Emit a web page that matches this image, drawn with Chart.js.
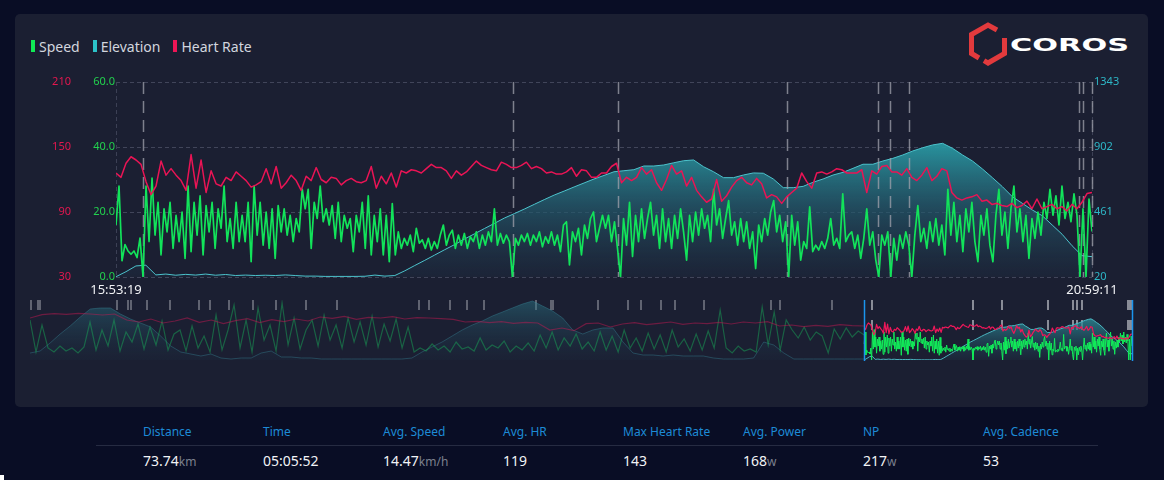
<!DOCTYPE html>
<html>
<head>
<meta charset="utf-8">
<script src="https://cdn.jsdelivr.net/npm/chart.js@4.4.1/dist/chart.umd.min.js"></script>
<style>
  html, body { margin: 0; padding: 0; }
  body { width: 1164px; height: 480px; background: #090d25; position: relative; overflow: hidden;
         font-family: 'Noto Sans', 'Open Sans', sans-serif; }
  #card { position: absolute; left: 15px; top: 14px; width: 1133px; height: 393px; background: #1b1f32; border-radius: 5px; }
  #legend { position: absolute; left: 31px; top: 36px; height: 20px; display: flex; align-items: center;
            font-size: 14px; color: #d2d5de; }
  #legend .item { display: flex; align-items: center; margin-right: 13px; }
  #legend .bar { width: 4px; height: 12px; margin-right: 4px; }
  #logo { position: absolute; left: 966px; top: 22px; }
  canvas { position: absolute; left: 0; }
  #main { top: 0; }
  #nav { top: 290px; }
  #sep { position: absolute; left: 96px; top: 445px; width: 1002px; height: 1px; background: #262b42; }
  .lbl { position: absolute; top: 425px; font-size: 12px; line-height: 13px; color: #1d8bd6; white-space: nowrap; }
  .val { position: absolute; top: 454px; font-size: 14px; line-height: 14px; color: #f2f3f6; white-space: nowrap; }
  .val span { font-size: 12px; color: #7c808e; }
  #corner { position: absolute; left: 0; top: 475px; width: 4px; height: 5px; background: #fff; }
</style>
</head>
<body>
<div id="card"></div>
<div id="legend">
  <div class="item"><div class="bar" style="background:#10ea55"></div>Speed</div>
  <div class="item"><div class="bar" style="background:#2cc3c9"></div>Elevation</div>
  <div class="item"><div class="bar" style="background:#ee1556"></div>Heart Rate</div>
</div>
<div id="logo">
  <svg width="170" height="46" viewBox="0 0 170 46">
    <g fill="none" stroke="#e23a3d" stroke-width="5" stroke-linejoin="miter">
      <path d="M31,8 L22,3 L5.5,12.5 L5.5,31.5 L13,36"/>
      <path d="M18,38.7 L22,41 L38.5,31.5 L38.5,16"/>
    </g>
    <text x="44" y="29" font-family="DejaVu Sans" font-weight="700" font-size="18" fill="#ffffff"
          textLength="119" lengthAdjust="spacingAndGlyphs">COROS</text>
  </svg>
</div>
<canvas id="main" width="1164" height="300"></canvas>
<canvas id="nav" width="1164" height="80"></canvas>
<div id="sep"></div>
<div id="stats"></div>
<div id="corner"></div>

<script>
// ---- data ----
const timeTicks = ['15:53:19', '20:59:11'];
const pauseTimes = ['16:01:52', '17:57:50', '18:30:44', '19:23:30', '19:52:13', '19:55:53',
                    '20:01:56', '20:55:07', '20:56:22', '20:59:11'];

const speedTicks = [0, 20, 40, 60];
const hrTicks = [30, 90, 150, 210];
const elevTicks = [20, 461, 902, 1343];

// speed, km/h (evenly spaced over the ride)
const speed = [
  16, 28, 5, 10, 8, 7, 8, 6, 12, 0,
  28, 10.9, 30.4, 12.9, 23, 6.8, 21, 13.9, 23, 8.8,
  19, 10.9, 20, 5.7, 28, 7.8, 23, 12.9, 25, 6.8,
  22, 13.9, 23, 8.8, 21, 15, 28, 10.9, 18, 8.8,
  23, 10.9, 19, 10.9, 23, 4.7, 28, 12.9, 23, 9.8,
  20, 8.8, 21, 5.7, 22, 13.9, 21, 12.9, 19, 10.9,
  18, 13.9, 27, 21, 27, 8.8, 23, 18, 28, 17,
  21, 16, 22, 11.9, 23, 10.9, 19, 15, 18, 7.8,
  19, 13.9,
  23, 8.8, 25, 6.8, 19, 10.9, 21, 6.8, 19, 4.7,
  22.6, 6.8, 13.9, 8.8, 11.9, 9.8, 12.9, 7.8, 15, 10.4,
  11.4, 8.8, 11.9, 8.3, 10.9, 8.8, 12.9, 16, 9.8, 12.9,
  14.4, 8.8, 12.9, 9.8, 13.4, 8.8, 12.4, 10.9, 13.9, 8.8,
  12.9, 9.8, 13.9, 10.9, 21, 9.8, 13.4, 10.4, 12.9, 10.9,
  0, 11.9, 9.8, 12.9, 10.9, 13.4, 9.8, 12.9, 10.9, 13.9,
  9.3, 12.4, 10.4, 13.9, 9.8, 12.9, 7.8, 16, 17, 3.7,
  13.9, 10.9, 15, 6.8, 16, 11.9, 18, 20, 10.9, 15,
  19, 15,
  19, 10.9, 17, 8.8, 0, 18, 9.8, 23, 6.3, 19,
  10.9, 21, 11.9, 18, 23, 12.9, 19, 8.8, 21, 10.9,
  18, 8.8, 19, 11.9, 21, 13.9, 5.2, 19, 10.9, 20,
  12.9, 21, 15, 19, 10.9, 27, 16, 21, 11.9, 18,
  23.5, 12.9, 17, 9.8, 18, 10.9, 17, 8.8, 13.9, 2.6,
  16, 10.9, 18, 12.9, 20, 23.5, 13.9, 19, 10.9, 17,
  0, 19, 9.8, 17, 5.2, 10.9, 8.8, 21.6, 7.8, 9.8,
  8.3, 10.9, 8.8, 11.9, 18, 9.8, 11.9, 8.8, 25.6, 10.9,
  12.9,
  13.9, 8.8, 12.9, 5.7, 11.9, 21, 9.8, 13.9, 5.2, 0,
  12.9, 9.8, 13.9, 0, 11.9, 5.2, 12.9, 8.8, 13.9, 9.8,
  0, 12.9, 22, 10.9, 15, 8.8, 17, 10.9, 18, 9.8,
  16, 6.8, 27, 12.9, 23, 10.9, 19, 7.8, 21, 13.9,
  23, 10.9, 4.7, 19, 12.9, 21, 9.8, 4.7, 19, 27,
  12.9, 20, 8.8, 21, 28, 13.9, 21, 10.9, 19, 5.7,
  18, 11.9, 20, 12.9, 23, 18, 27, 19, 25, 16,
  28, 18, 23, 17, 25.6, 19, 0, 21, 0, 24,
  14
];

// heart rate, bpm
const heartRate = [
  126, 122, 135, 141, 138, 134, 118, 106, 114, 137,
  124, 130, 124, 119, 110, 143, 112, 138, 108, 128,
  116, 114, 122, 119, 127, 123, 119, 113, 115, 118,
  130, 116, 132, 112, 117, 124, 119, 110, 123, 119,
  131, 120, 117, 122, 121, 115, 119, 121, 118,
  117, 119, 132, 112, 123, 116, 126, 113, 128, 126,
  129, 128, 126, 130, 134, 131, 131, 128, 121, 128,
  124, 127, 132, 137, 133, 131, 129, 128, 136, 134,
  131, 131, 133, 136, 130, 132, 130, 126, 127, 125,
  125, 127, 131, 123, 129, 128, 122, 122, 126,
  126, 132, 135, 117, 122, 119, 122, 131, 125, 129,
  117, 110, 120, 133, 125, 128, 114, 122, 110, 104,
  99, 102, 120, 100, 105, 113, 119, 122, 117, 115,
  121, 116, 103, 106, 104, 98, 104, 108, 112, 126,
  118, 112, 126, 127, 125, 127, 130, 129, 126,
  126, 126, 129, 108, 128, 125, 132, 133, 127, 127,
  124, 130, 122, 119, 124, 131, 119, 123, 130, 128,
  108, 103, 101, 103, 104, 106, 100, 101, 97, 98,
  96, 95, 98, 94, 96, 100, 93, 102, 93, 95,
  97, 93, 95, 91, 97, 93, 99, 107, 108
];

// elevation, m
const elevation = [
  22, 56, 95, 100, 34, 40, 32, 38, 33, 40,
  32, 37, 30, 33, 30, 32, 30, 34, 30, 26,
  26, 24, 24, 24, 24, 25, 33, 26, 30, 62,
  98, 133, 169, 205, 240, 278, 313, 349, 384, 420,
  450, 481, 513, 545, 576, 603, 631, 658, 685, 709,
  734, 741, 748, 773, 773, 780, 795, 809, 814, 768,
  734, 694, 694, 712, 726, 724, 685, 626, 626, 635,
  663, 685, 712, 730, 757, 785, 785, 807, 825, 848,
  875, 897, 916, 927, 893, 848, 807, 753, 694, 633,
  565, 520, 475, 436, 373, 310, 232, 165, 158
];

// overview strip: the earlier part of the activity, shown dimmed
const overviewSpeed = [
  40, 8, 35,
  12, 8, 14, 9, 12, 7, 13,
  38, 10, 30, 14, 40, 9, 28, 18, 36, 11, 33, 15, 39, 10, 26,
  30, 9, 34, 12, 24, 8,
  45, 10, 30, 55, 12, 40, 8, 52, 20, 35, 9, 57, 15, 42, 11, 30,
  40, 14, 45, 20, 35, 12, 42, 18, 38, 15, 44, 13, 36, 19, 41, 12, 33, 8,
  12, 9, 16, 10, 14, 8, 18, 11, 13, 9, 22, 10, 15, 12, 19, 8, 14, 10, 17, 9,
  25, 12, 28, 10, 22, 14, 26, 11, 18, 9,
  28, 10, 24, 8, 30, 12, 22, 9, 27, 11, 25, 8, 30, 13, 21, 9, 26, 10, 29, 12, 50,
  12, 7, 14, 9, 11, 8,
  53, 15, 48, 10, 40,
  30, 22, 33, 20, 28, 24, 7, 31, 21, 32, 23, 29, 25
];
const overviewHr = [
  156,
  166, 169, 167, 170, 168, 165, 168,
  150, 144, 153, 141, 147, 156, 143, 150, 139, 148, 154, 142, 151, 145, 153, 147,
  159, 155, 161, 152, 158, 156, 160, 153, 157,
  156, 154, 152,
  144, 146, 142, 145, 140, 143, 141,
  120, 126, 118,
  139, 141,
  129,
  138, 142, 136, 140, 144, 137, 141, 139, 143, 138,
  144, 141, 145,
  132, 135, 130, 134, 131, 136, 133, 132
];
const overviewElev = [
  174, 218, 395, 593, 770, 968, 1145, 1167, 1167, 1034,
  924, 836, 748, 549, 329, 196, 152, 108, 152, 64,
  42, 64, 64, 174, 218, 86, 86, 64, 64, 42,
  42, 42, 42, 42, 42, 42, 42, 42, 64, 196,
  307, 417, 549, 682, 792, 880, 990, 1078, 1167, 1255,
  1321, 1211, 1100, 946, 682, 593, 682, 726, 726, 417,
  174, 130, 130, 108, 130, 108, 108, 108, 64, 42,
  42, 42, 64, 417, 351, 174, 42, 42, 42, 42,
  42, 42, 42, 42
];
const overviewPauses = [0.001, 0.007, 0.009, 0.079, 0.089, 0.092, 0.106, 0.127, 0.153, 0.163,
  0.181, 0.202, 0.223, 0.250, 0.279, 0.353, 0.362, 0.381, 0.397, 0.412, 0.459, 0.473, 0.475,
  0.515, 0.543, 0.554, 0.573, 0.585, 0.612, 0.672, 0.681, 0.728];
const windowStart = 0.757;

const statLabels = ['Distance', 'Time', 'Avg. Speed', 'Avg. HR', 'Max Heart Rate', 'Avg. Power', 'NP', 'Avg. Cadence'];
const statValues = ['73.74', '05:05:52', '14.47', '119', '143', '168', '217', '53'];
const statUnits = ['km', '', 'km/h', '', '', 'w', 'w', ''];

// ---- helpers ----
const toSec = t => { const [h, m, s] = t.split(':').map(Number); return h * 3600 + m * 60 + s; };
const t0 = toSec(timeTicks[0]);
const duration = toSec(timeTicks[1]) - t0;
const series = arr => arr.map((v, i) => ({ x: i * duration / (arr.length - 1), y: v }));
const spread = (arr, from, to) => arr.map((v, i) => ({ x: from + (to - from) * i / (arr.length - 1), y: v }));
const fixTicks = list => scale => { scale.ticks = list.map(v => ({ value: v })); };
const font = { family: "'Noto Sans', sans-serif", size: 11 };

function gradient(stops) {
  return ctx => {
    const a = ctx.chart.chartArea;
    if (!a) return 'transparent';
    const g = ctx.chart.ctx.createLinearGradient(0, a.top, 0, a.bottom);
    stops.forEach(([p, c]) => g.addColorStop(p, c));
    return g;
  };
}

// dashed pause lines, drawn just above the elevation area
const pauseLines = {
  id: 'pauseLines',
  afterDatasetDraw(chart, args) {
    if (args.index !== 0) return;
    const { ctx, chartArea: a, scales: { x } } = chart;
    ctx.save();
    ctx.strokeStyle = 'rgba(160,162,172,0.75)';
    ctx.lineWidth = 1.5;
    ctx.setLineDash([12, 7]);
    pauseTimes.forEach(t => {
      const px = Math.round(x.getPixelForValue(toSec(t) - t0)) + 0.5;
      ctx.beginPath(); ctx.moveTo(px, a.top); ctx.lineTo(px, a.bottom); ctx.stroke();
    });
    ctx.restore();
  },
  beforeDatasetsDraw(chart) {
    const { ctx, chartArea: a } = chart;
    ctx.save();
    ctx.strokeStyle = '#3c4055';
    ctx.lineWidth = 1;
    ctx.setLineDash([4, 3]);
    [a.left, a.right].forEach(px => {
      ctx.beginPath(); ctx.moveTo(px + 0.5, a.top); ctx.lineTo(px + 0.5, a.bottom); ctx.stroke();
    });
    ctx.restore();
  }
};

new Chart(document.getElementById('main'), {
  type: 'line',
  data: {
    datasets: [
      { label: 'Elevation', data: series(elevation), yAxisID: 'elev', order: 3,
        borderColor: '#4cc3cc', borderWidth: 1, fill: 'start',
        backgroundColor: gradient([[0, 'rgba(52,196,204,1)'], [0.3, 'rgba(42,158,168,0.95)'],
                                   [0.65, 'rgba(36,92,110,0.7)'], [1, 'rgba(30,44,64,0.4)']]) },
      { label: 'Speed', data: series(speed), yAxisID: 'speed', order: 2,
        borderColor: '#12e35a', borderWidth: 1.7, borderJoinStyle: 'round' },
      { label: 'Heart Rate', data: series(heartRate), yAxisID: 'hr', order: 1,
        borderColor: '#ea1455', borderWidth: 1.5, borderJoinStyle: 'round' }
    ]
  },
  options: {
    responsive: false,
    animation: false,
    layout: { padding: { top: 82, left: 0, right: 0, bottom: 0 } },
    elements: { point: { radius: 0 }, line: { tension: 0 } },
    plugins: { legend: { display: false }, tooltip: { enabled: false } },
    scales: {
      x: {
        type: 'linear', min: 0, max: duration,
        afterBuildTicks: s => { s.ticks = [{ value: 0 }, { value: duration }]; },
        afterFit: s => { s.height = 23; },
        ticks: { color: '#f0f1f4', font: { family: font.family, size: 13 }, padding: 5,
                 maxRotation: 0, autoSkip: false, callback: (v, i) => timeTicks[i] },
        grid: { display: false, drawTicks: false }, border: { display: false }
      },
      speed: {
        position: 'left', weight: 0, min: 0, max: 60,
        afterBuildTicks: fixTicks(speedTicks),
        afterFit: s => { s.width = 41; },
        ticks: { color: '#22d14e', font, padding: 1, callback: v => v.toFixed(1) },
        grid: { color: '#41455a', drawTicks: false }, border: { display: false, dash: [4, 3] }
      },
      hr: {
        position: 'left', weight: 1, min: 30, max: 210,
        afterBuildTicks: fixTicks(hrTicks),
        afterFit: s => { s.width = 75; },
        ticks: { color: '#e3174f', font, padding: 4, callback: v => String(v) },
        grid: { display: false, drawTicks: false }, border: { display: false }
      },
      elev: {
        position: 'right', min: 20, max: 1343,
        afterBuildTicks: fixTicks(elevTicks),
        afterFit: s => { s.width = 72; },
        ticks: { color: '#2db6c6', font, padding: 2, callback: v => String(v) },
        grid: { display: false, drawTicks: false }, border: { display: false }
      }
    }
  },
  plugins: [pauseLines]
});

// ---- overview strip ----
// short marks at the top of the strip for every pause
function drawMarks(ctx, px, top, dashes, color) {
  ctx.strokeStyle = color;
  for (let d = 0; d < dashes; d++) {
    ctx.beginPath();
    ctx.moveTo(px, top + d * 20);
    ctx.lineTo(px, top + d * 20 + 10);
    ctx.stroke();
  }
}

const navMarks = {
  id: 'navMarks',
  beforeDatasetsDraw(chart) {
    const { ctx, chartArea: a, scales: { x } } = chart;
    ctx.save();
    ctx.lineWidth = 2;
    overviewPauses.forEach(f => {
      drawMarks(ctx, Math.round(x.getPixelForValue(f)), a.top, 1, 'rgba(120,123,135,0.75)');
    });
    pauseTimes.forEach(t => {
      const f = windowStart + (1 - windowStart) * (toSec(t) - t0) / duration;
      drawMarks(ctx, Math.round(x.getPixelForValue(f)), a.top, 2, 'rgba(165,167,176,0.8)');
    });
    ctx.restore();
  },
  afterDatasetsDraw(chart) {
    const { ctx, chartArea: a, scales: { x } } = chart;
    ctx.save();
    ctx.strokeStyle = '#1b95ee';
    ctx.lineWidth = 1.5;
    [windowStart, 1].forEach(f => {
      const px = Math.round(x.getPixelForValue(f)) + 0.5;
      ctx.beginPath(); ctx.moveTo(px, a.top); ctx.lineTo(px, a.bottom + 1); ctx.stroke();
    });
    ctx.restore();
  }
};

new Chart(document.getElementById('nav'), {
  type: 'line',
  data: {
    datasets: [
      { data: spread(overviewElev, 0, windowStart), yAxisID: 'elev', order: 6, fill: 'start',
        borderColor: 'rgba(60,150,165,0.35)', borderWidth: 1,
        backgroundColor: gradient([[0, 'rgba(45,130,145,0.45)'], [1, 'rgba(30,50,70,0.15)']]) },
      { data: spread(overviewSpeed, 0, windowStart), yAxisID: 'speed', order: 5,
        borderColor: 'rgba(25,180,90,0.45)', borderWidth: 1.2 },
      { data: spread(overviewHr, 0, windowStart), yAxisID: 'hr', order: 4,
        borderColor: 'rgba(210,25,85,0.45)', borderWidth: 1.2 },
      { data: spread(elevation, windowStart, 1), yAxisID: 'elev', order: 3, fill: 'start',
        borderColor: 'rgba(80,195,205,0.9)', borderWidth: 1,
        backgroundColor: gradient([[0, 'rgba(50,190,198,0.95)'], [1, 'rgba(30,48,68,0.35)']]) },
      { data: spread(speed, windowStart, 1), yAxisID: 'speed', order: 2,
        borderColor: '#12ec5a', borderWidth: 1, borderJoinStyle: 'round' },
      { data: spread(heartRate, windowStart, 1), yAxisID: 'hr', order: 1,
        borderColor: '#f0175a', borderWidth: 1.2, borderJoinStyle: 'round' }
    ]
  },
  options: {
    responsive: false,
    animation: false,
    layout: { padding: { top: 10, bottom: 10, left: 30, right: 32 } },
    elements: { point: { radius: 0 }, line: { tension: 0 } },
    plugins: { legend: { display: false }, tooltip: { enabled: false } },
    scales: {
      x: { type: 'linear', min: 0, max: 1, display: false },
      speed: { min: 0, max: 60, display: false },
      hr: { min: 30, max: 210, display: false },
      elev: { min: 20, max: 1343, display: false }
    }
  },
  plugins: [navMarks]
});

// ---- summary row ----
const stats = document.getElementById('stats');
statLabels.forEach((label, i) => {
  const left = 143 + i * 120;
  const l = document.createElement('div');
  l.className = 'lbl';
  l.style.left = left + 'px';
  l.textContent = label;
  stats.appendChild(l);
  const v = document.createElement('div');
  v.className = 'val';
  v.style.left = left + 'px';
  v.textContent = statValues[i];
  if (statUnits[i]) {
    const u = document.createElement('span');
    u.textContent = statUnits[i];
    v.appendChild(u);
  }
  stats.appendChild(v);
});
</script>
</body>
</html>
